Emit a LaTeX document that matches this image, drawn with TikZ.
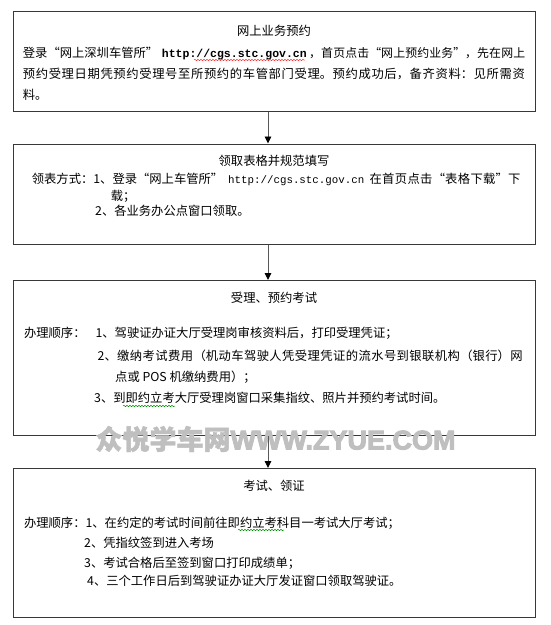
\documentclass[tikz,border=0pt]{standalone}
\usepackage{fontspec}
\setmainfont{Noto Sans CJK SC}[BoldFeatures={FakeBold=1.5}]
\newfontfamily\urlfont{Liberation Mono}
\newfontfamily\wmlat{Liberation Sans}[BoldFeatures={FakeBold=3.5}]
\usetikzlibrary{arrows.meta,decorations.pathmorphing}
\XeTeXlinebreaklocale "zh"
\XeTeXlinebreakskip=0pt plus 3pt
\begin{document}
\begin{tikzpicture}[x=1pt,y=-1pt,
  box/.style={draw=black!78, line width=1.3pt, inner sep=0pt, anchor=north west, minimum width=522pt},
  txt/.style={anchor=base west, inner sep=0pt, font=\fontsize{12.3}{15}\selectfont},
  ttl/.style={txt, anchor=base},
  urltxt/.style={anchor=base west, inner sep=0pt, font=\urlfont\fontsize{10.8}{14}\selectfont},
  just/.style={txt, text width=#1, align=justify},
  arr/.style={draw=black!65, line width=0.9pt, -{Triangle[length=7pt,width=6.5pt,color=black]}},
  wm/.style={inner sep=0pt, text=black!25, font=\fontsize{27}{29}\selectfont\bfseries},
  sq/.style={decorate, decoration={snake, segment length=3pt, amplitude=0.7pt}, line width=0.5pt}
]
\useasboundingbox[fill=white] (0,0) rectangle (550,625);

% boxes
\node[box, minimum height=100pt] (b1) at (13,11) {};
\node[box, minimum height=100pt] (b2) at (13,143.5) {};
\node[box, minimum height=154.5pt] (b3) at (13,280) {};
\node[box, minimum height=148.5pt] (b4) at (13,468) {};

% box 1
\node[ttl] (t1) at (274,35) {网上业务预约};
\node[txt] (l1a) at (22.7,57) {登录“网上深圳车管所”};
\node[urltxt, font=\urlfont\bfseries\fontsize{11.5}{14}\selectfont] (l1u) at (161.7,57) {http://cgs.stc.gov.cn};
\node[just=216pt, font=\fontsize{11.9}{15}\selectfont] (l1c) at (309,57) {\parfillskip=0pt\relax ，首页点击“网上预约业务”，先在网上\par};
\node[just=502pt] (l1d) at (22.7,78) {\parfillskip=0pt\relax 预约受理日期凭预约受理号至所预约的车管部门受理。预约成功后，备齐资料：见所需资\par};
\node[txt] (l1e) at (22.7,99) {料。};

% box 2
\node[ttl] (t2) at (274,165) {领取表格并规范填写};
\node[txt] (l2a) at (31.7,183.3) {领表方式：1、登录“网上车管所”};
\node[urltxt] (l2u) at (228,183.3) {http://cgs.stc.gov.cn};
\node[just=151pt] (l2c) at (369.3,183.3) {\parfillskip=0pt\relax 在首页点击“表格下载”下\par};
\node[txt] (l2d) at (110.7,200) {载；};
\node[txt] (l2e) at (95,215) {2、各业务办公点窗口领取。};

% box 3
\node[ttl] (t3) at (274,302) {受理、预约考试};
\node[txt] (l3a) at (23.9,337) {办理顺序：};
\node[txt] (l3b) at (95.4,337) {1、驾驶证办证大厅受理岗审核资料后，打印受理凭证；};
\node[just=425pt] (l3c) at (97.5,360) {\parfillskip=0pt\relax 2、缴纳考试费用（机动车驾驶人凭受理凭证的流水号到银联机构（银行）网\par};
\node[txt] (l3d) at (115,381) {点或 POS 机缴纳费用）；};
\node[txt] (l3e) at (94,402) {3、到即约立考大厅受理岗窗口采集指纹、照片并预约考试时间。};

% box 4
\node[ttl] (t4) at (274,490) {考试、领证};
\node[txt] (l4a) at (23.9,527) {办理顺序：1、在约定的考试时间前往即约立考科目一考试大厅考试；};
\node[txt] (l4b) at (84,547) {2、凭指纹签到进入考场};
\node[txt] (l4c) at (84,567) {3、考试合格后至签到窗口打印成绩单；};
\node[txt] (l4d) at (87,585) {4、三个工作日后到驾驶证办证大厅发证窗口领取驾驶证。};

% spell-check squiggles
\draw[sq, red!80] (194,60) -- (305,60);
\draw[sq, green!55!black] (123,406) -- (175,406);
\draw[sq, green!55!black] (238,530) -- (284,530);

% watermark (over the box border, under the connector)
\node[wm] (wm) at (275.5,439) {众悦学车网{\wmlat\bfseries WWW.ZYUE.COM}};

% connectors
\coordinate (ax) at (268,0);
\draw[arr] (b1.south -| ax) -- (b2.north -| ax);
\draw[arr] (b2.south -| ax) -- (b3.north -| ax);
\draw[arr] (b3.south -| ax) -- (b4.north -| ax);
\end{tikzpicture}
\end{document}
